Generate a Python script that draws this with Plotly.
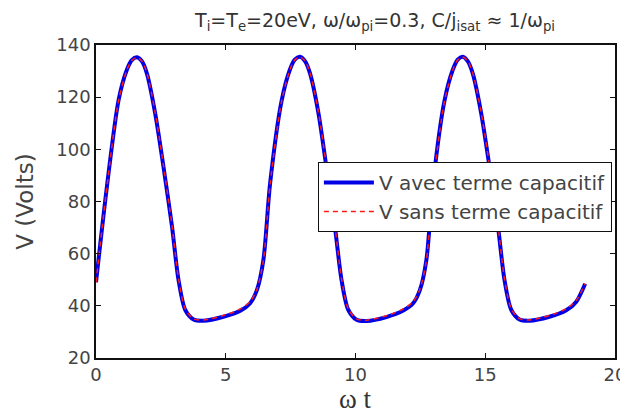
import plotly.graph_objects as go

# omega*t values (x axis)
wt = [0.00, 0.42, 0.87, 1.19, 1.38, 1.58, 1.78, 1.96, 2.28, 2.60, 2.93, 3.18, 3.44, 3.76, 4.14,
      4.91, 5.56, 5.94, 6.20, 6.45, 6.71, 7.15, 7.47, 7.66, 7.86, 8.06, 8.25, 8.57, 8.88, 9.21,
      9.46, 9.72, 10.04, 10.42, 11.19, 11.84, 12.22, 12.48, 12.73, 12.99, 13.43,
      13.75, 13.94, 14.13, 14.33, 14.52, 14.84, 15.16, 15.49, 15.74, 16.00, 16.32, 16.70, 17.47,
      18.12, 18.50, 18.85]

# V with capacitive term (Volts)
v_avec = [49, 85.7, 118.9, 130.5, 134.2, 135.3, 133.6, 129.1, 113.8, 93.3, 70.3, 49.9, 38.4, 34.8, 34.3,
          35.8, 38.1, 41, 46, 57.6, 87, 118.5, 130.5, 134.4, 135.5, 133.7, 129, 114, 93, 70,
          50, 38.5, 34.7, 34.2, 35.7, 38.2, 41, 46, 57.5, 87, 118.7,
          130.5, 134.4, 135.5, 133.7, 129, 114, 93.5, 70.5, 50, 38.5, 34.8, 34.3, 35.8,
          38.3, 41.5, 48.5]

# V without capacitive term (Volts)
v_sans = [49, 85.5, 118.7, 130.4, 134.1, 135.2, 133.7, 129.3, 114.2, 93.8, 70.8, 50.4, 38.8, 35.0, 34.6,
          36.3, 38.8, 41.6, 46.3, 57.4, 86.6, 118.3, 130.4, 134.3, 135.4, 133.8, 129.2, 114.4, 93.5, 70.5,
          50.5, 38.9, 35.0, 34.5, 36.2, 38.8, 41.6, 46.3, 57.3, 86.6, 118.5,
          130.4, 134.3, 135.4, 133.8, 129.2, 114.4, 94.0, 71.0, 50.5, 38.9, 35.1, 34.6, 36.3,
          38.9, 42.0, 48.5]

x_ticks = [0, 5, 10, 15, 20]
y_ticks = [20, 40, 60, 80, 100, 120, 140]

fig = go.Figure()
fig.add_trace(go.Scatter(
    x=wt, y=v_avec, mode="lines", name="V avec terme capacitif",
    line=dict(color="#0000e6", width=4, shape="spline", smoothing=0.8)))
fig.add_trace(go.Scatter(
    x=wt, y=v_sans, mode="lines", name="V sans terme capacitif",
    line=dict(color="#ff1a1a", width=1.5, dash="5px,4px", shape="spline", smoothing=0.8)))

axis_common = dict(showgrid=False, zeroline=False, showline=True, linecolor="#111",
                   linewidth=1.5, mirror="ticks", ticks="inside", ticklen=5,
                   tickcolor="#111", tickwidth=1, automargin=False,
                   tickfont=dict(family="DejaVu Sans", size=18, color="#444"))

# The page body adds an 8px offset, so the figure is sized 8px smaller on each axis.
fig.update_layout(
    width=620, height=406,
    paper_bgcolor="white", plot_bgcolor="white",
    margin=dict(l=88, r=13, t=37, b=56),
    title=dict(
        text="T<sub>i</sub>=T<sub>e</sub>=20eV, ω/ω<sub>pi</sub>=0.3, C/j<sub>isat</sub> ≈ 1/ω<sub>pi</sub>",
        x=0.592, xanchor="center", xref="container",
        y=0.985, yanchor="top", yref="container",
        font=dict(family="DejaVu Sans", size=19, color="#333")),
    xaxis=dict(range=[0, 20], tickvals=x_ticks, **axis_common),
    yaxis=dict(range=[20, 140], tickvals=y_ticks,
               title=dict(text="V (Volts)", standoff=16,
                          font=dict(family="DejaVu Sans", size=23, color="#444")),
               **axis_common),
    legend=dict(x=0.994, xanchor="right", y=0.626, yanchor="top",
                bgcolor="white", bordercolor="#111", borderwidth=1,
                font=dict(family="DejaVu Sans", size=20, color="#444"),
                itemwidth=50, tracegroupgap=0),
    annotations=[dict(text="ω t", xref="paper", yref="paper", x=0.5, y=-0.131,
                      xanchor="center", yanchor="middle", showarrow=False,
                      font=dict(family="Liberation Serif", size=27, color="#333"))],
    showlegend=True,
)

fig.write_html("out.html")
